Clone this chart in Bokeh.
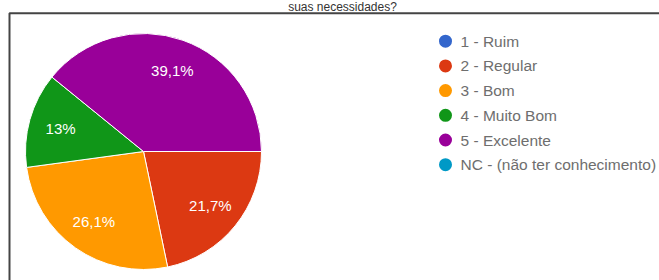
import numpy as np
from bokeh.plotting import figure
from bokeh.models import Range1d, ColumnDataSource
from bokeh.core.properties import value
from bokeh.embed import file_html
from bokeh.resources import INLINE

# ---- data ----
title_text = "suas necessidades?"
categories = ["1 - Ruim", "2 - Regular", "3 - Bom", "4 - Muito Bom", "5 - Excelente", "NC - (não ter conhecimento)"]
percents = [0.0, 21.7, 26.1, 13.0, 39.1, 0.0]
pct_labels = ["", "21,7%", "26,1%", "13%", "39,1%", ""]
colors = ["#3366cc", "#dc3912", "#ff9900", "#109618", "#990099", "#0099c6"]

W, H = 659, 280
p = figure(width=W, height=H, output_backend="svg", toolbar_location=None,
           x_range=Range1d(0, W), y_range=Range1d(0, H), min_border=0,
           background_fill_color="white", border_fill_color="white")
p.axis.visible = False
p.grid.visible = False
p.outline_line_color = None

# title (the reference shows it cut at the top edge; kept whole here, small)
p.text(x=[342], y=[H - 6], text=[title_text], text_color="#333333",
       text_font=value("Liberation Sans"), text_font_size="12px",
       text_align="center", text_baseline="middle")

# frame (cut off at right and bottom)
p.line(x=[9, 9, W], y=[0, H - 12.7, H - 12.7], line_color="#444444", line_width=2)

# pie
cx, cy, r = 143, 129, 118
vals = np.array(percents)
frac = vals / vals.sum()
cum = np.concatenate([[0], np.cumsum(frac)])
starts = -cum[:-1] * 2 * np.pi
ends = -cum[1:] * 2 * np.pi
mask = vals > 0
src = ColumnDataSource(dict(start=starts[mask], end=ends[mask],
                            color=[c for c, m in zip(colors, mask) if m]))
p.wedge(x=cx, y=cy, radius=r, start_angle="start", end_angle="end",
        direction="clock", fill_color="color", line_color="white",
        line_width=1, source=src)

mid = (starts + ends) / 2
lx = cx + 0.73 * r * np.cos(mid)
ly = cy + 0.73 * r * np.sin(mid)
lsrc = ColumnDataSource(dict(x=lx[mask], y=ly[mask],
                             t=[t for t, m in zip(pct_labels, mask) if m]))
p.text(x="x", y="y", text="t", source=lsrc, text_color="white",
       text_font=value("Liberation Sans"), text_font_size="15px",
       text_align="center", text_baseline="middle")

# legend
n = len(categories)
leg_y = (H - 40.7) - 24.7 * np.arange(n)
leg_x = np.full(n, 445.0)
p.scatter(x=leg_x, y=leg_y, size=13, marker="circle", fill_color=colors,
          line_color=None)
p.text(x=leg_x + 15, y=leg_y, text=categories, text_color="#6e6e6e",
       text_font=value("Liberation Sans"), text_font_size="15.5px",
       text_align="left", text_baseline="middle")

open("out.html", "w").write(file_html(p, INLINE))
